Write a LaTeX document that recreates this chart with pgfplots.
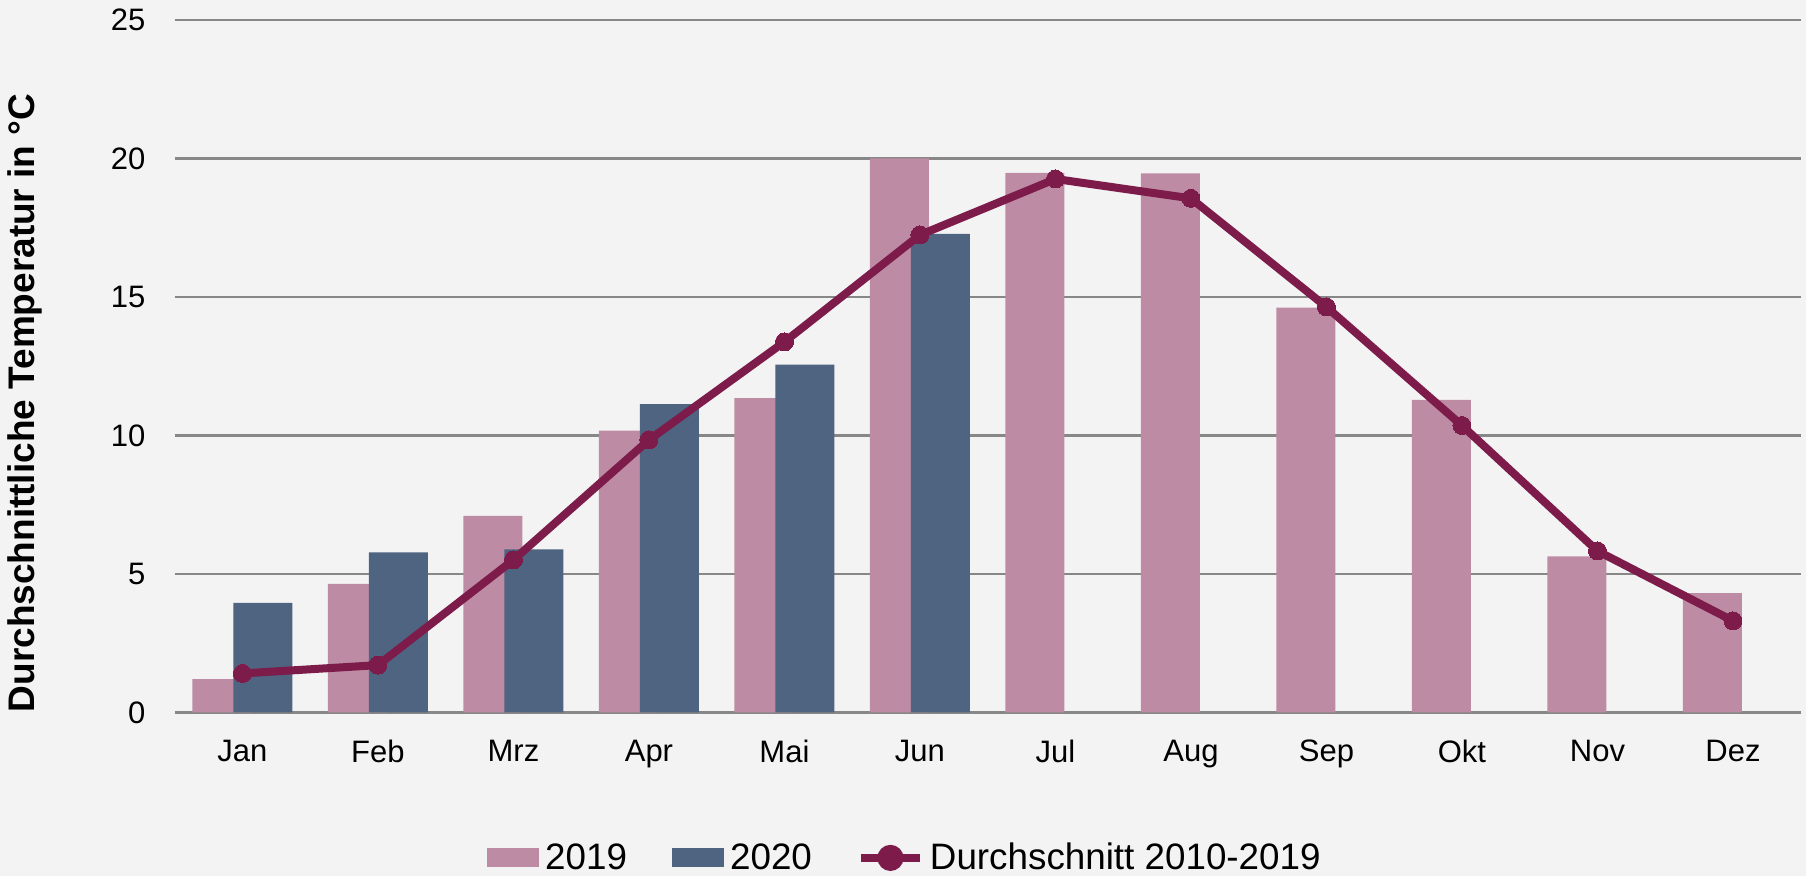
\documentclass[border=0pt]{standalone}
\usepackage{pgfplots}
\pgfplotsset{compat=1.18}
\usepackage{fontspec}
\setmainfont{Liberation Sans}
\definecolor{bg}{HTML}{F3F3F3}
\definecolor{cA}{HTML}{BE8BA4}
\definecolor{cB}{HTML}{4E6480}
\definecolor{cL}{HTML}{7D1B4B}
\definecolor{grd}{HTML}{878787}
\begin{document}
\begin{tikzpicture}
\fill[bg] (0,0) rectangle (903pt,438pt);
\begin{axis}[
  at={(87.35pt,81.75pt)}, anchor=south west,
  scale only axis, width=813pt, height=346.25pt,
  xmin=-0.5, xmax=11.5, ymin=0, ymax=25,
  xtick={0,...,11},
  xticklabels={Jan,Feb,Mrz,Apr,Mai,Jun,Jul,Aug,Sep,Okt,Nov,Dez},
  ytick={0,5,10,15,20,25},
  ymajorgrids, grid style={grd, line width=1.25pt},
  axis line style={draw=none}, tick style={draw=none},
  /pgf/number format/assume math mode=true,
  tick label style={font=\fontsize{15.5pt}{18pt}\selectfont, inner sep=0pt},
  yticklabel shift=14.5pt, xticklabel shift=13.5pt,
  ylabel={Durchschnittliche Temperatur in °C},
  ylabel style={font=\fontsize{18.5pt}{22pt}\selectfont\bfseries, at={(axis description cs:-0.0921,0.447)}, anchor=center, inner sep=0pt},
  legend columns=-1,
  legend style={draw=none, fill=none, font=\fontsize{18.4pt}{22pt}\selectfont,
    at={(axis description cs:0.4485,-0.210)}, anchor=center, inner sep=0pt,
    nodes={inner sep=0pt},
    /tikz/every odd column/.append style={column sep=3pt},
    /tikz/every even column/.append style={column sep=22.5pt}},
]
\addplot[ybar, bar width=29.5pt, bar shift=-10.25pt, fill=cA, draw=none,
  legend image code/.code={\fill[cA] (0pt,-4.75pt) rectangle (26pt,4.75pt);}]
  coordinates {(0,1.20) (1,4.64) (2,7.10) (3,10.18) (4,11.35) (5,20.0) (6,19.48) (7,19.46) (8,14.62) (9,11.29) (10,5.64) (11,4.31)};
\addlegendentry{2019}
\addplot[ybar, bar width=29.5pt, bar shift=10.25pt, fill=cB, draw=none,
  legend image code/.code={\fill[cB] (0pt,-4.75pt) rectangle (26pt,4.75pt);}]
  coordinates {(0,3.96) (1,5.78) (2,5.89) (3,11.13) (4,12.56) (5,17.28)};
\addlegendentry{2020}
\addplot[cL, line width=4pt, mark=*, mark size=4.5pt, mark options={fill=cL, draw=cL, line width=0pt},
  legend image code/.code={\draw[cL, line width=4pt] (0pt,0pt) -- (29.5pt,0pt); \fill[cL] (14.75pt,0pt) circle (4.5pt);}]
  coordinates {(0,1.41) (1,1.71) (2,5.51) (3,9.84) (4,13.38) (5,17.24) (6,19.26) (7,18.56) (8,14.64) (9,10.36) (10,5.83) (11,3.31)};
\addlegendentry{Durchschnitt 2010-2019}
\end{axis}
\pgfresetboundingbox
\useasboundingbox (0,0) rectangle (903pt,438pt);
\end{tikzpicture}
\end{document}
